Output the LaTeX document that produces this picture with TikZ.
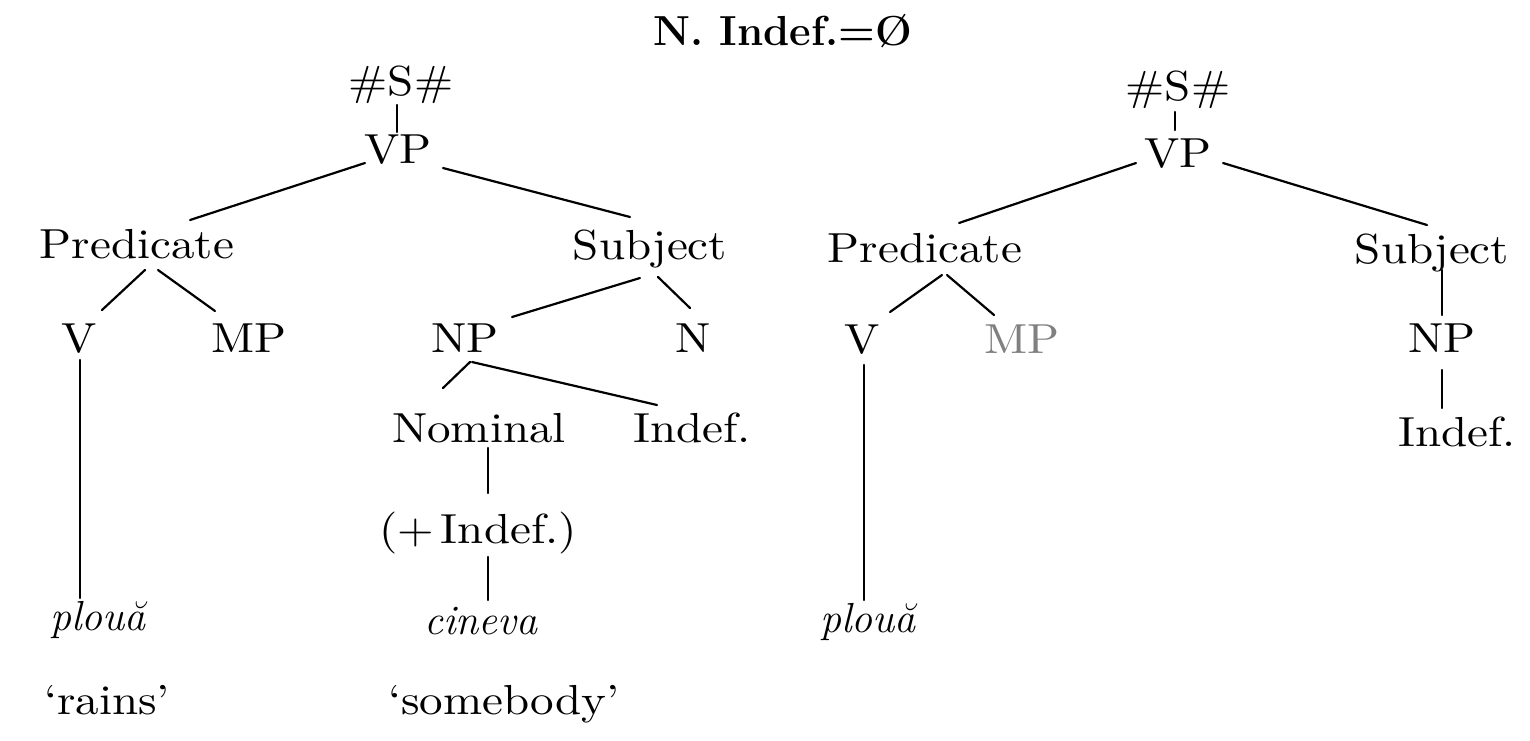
\documentclass[tikz,border=0pt]{standalone}
\usepackage{fontspec}
\newfontfamily\rmwide{lmroman10-regular.otf}[FakeStretch=1.12]
\usetikzlibrary{calc}
\begin{document}
\begin{tikzpicture}[x=0.5pt,y=-0.5pt,
  lbl/.style={anchor=base,inner sep=0pt,font=\fontsize{21}{25}\selectfont\rmwide},
  word/.style={anchor=base,inner sep=0pt,font=\fontsize{21}{25}\selectfont\itshape},
  ttl/.style={anchor=base,inner sep=0pt,font=\fontsize{21}{25}\selectfont\bfseries},
  faint/.style={lbl,text=black!50},
  br/.style={line width=1.1pt,line cap=round}]
\useasboundingbox (0,0) rectangle (1530,740);
\fill[white] (0,0) rectangle (1530,740);
% title
\node[ttl] (title) at (783,45) {N. Indef.=Ø};
% ---------------- left tree
\node[lbl] (lS)    at (401,95)  {\#S\#};
\node[lbl] (lVP)   at (398,163) {VP};
\node[lbl] (lPred) at (137,258) {Predicate};
\node[lbl] (lSubj) at (650,259) {Subject};
\node[lbl] (lV)    at (79,352)  {V};
\node[lbl] (lMP)   at (249,352) {MP};
\node[lbl] (lNP)   at (465,352) {NP};
\node[lbl] (lN)    at (693,352) {N};
\node[lbl] (lNom)  at (479,442) {Nominal};
\node[lbl] (lInd)  at (692,442) {Indef.};
\node[lbl] (lPI)   at (478,543) {(+\,Indef.)};
\node[word] (lcin) at (481,634) {cineva};
\node[word] (lplo) at (98,630)  {plouă};
\node[lbl] (rains) at (107,714) {‘rains’};
\node[lbl] (smb)   at (504,714) {‘somebody’};
\draw[br] ($(lS.base)+(-4,10)$) -- ($(lVP.base)+(-1,-31)$);
\draw[br] ($(lVP.base)+(-33,0)$) -- ($(lPred.base)+(53,-38)$);
\draw[br] ($(lVP.base)+(45,5)$) -- ($(lSubj.base)+(-20,-42)$);
\draw[br] ($(lPred.base)+(8,12)$) -- ($(lV.base)+(23,-42)$);
\draw[br] ($(lPred.base)+(21,12)$) -- ($(lMP.base)+(-34,-41)$);
\draw[br] ($(lSubj.base)+(-10,19)$) -- ($(lNP.base)+(47,-35)$);
\draw[br] ($(lSubj.base)+(8,18)$) -- ($(lN.base)+(-3,-44)$);
\draw[br] ($(lNP.base)+(5,10)$) -- ($(lNom.base)+(-36,-54)$);
\draw[br] ($(lNP.base)+(7,10)$) -- ($(lInd.base)+(-35,-37)$);
\draw[br] ($(lNom.base)+(9,6)$) -- ($(lPI.base)+(10,-50)$);
\draw[br] ($(lPI.base)+(10,14)$) -- ($(lcin.base)+(7,-34)$);
\draw[br] ($(lV.base)+(1,8)$) -- ($(lplo.base)+(-18,-32)$);
% ---------------- right tree
\node[lbl] (rS)    at (1178,100) {\#S\#};
\node[lbl] (rVP)   at (1178,167) {VP};
\node[lbl] (rPred) at (925,262)  {Predicate};
\node[lbl] (rSubj) at (1432,263) {Subject};
\node[lbl] (rV)    at (862,353)  {V};
\node[faint] (rMP) at (1022,353) {MP};
\node[lbl] (rNP)   at (1442,352) {NP};
\node[lbl] (rInd)  at (1457,446) {Indef.};
\node[word] (rplo) at (868,632)  {plouă};
\draw[br] ($(rS.base)+(-3,12)$) -- ($(rVP.base)+(-3,-37)$);
\draw[br] ($(rVP.base)+(-42,-4)$) -- ($(rPred.base)+(34,-39)$);
\draw[br] ($(rVP.base)+(45,-4)$) -- ($(rSubj.base)+(-5,-38)$);
\draw[br] ($(rPred.base)+(17,13)$) -- ($(rV.base)+(28,-41)$);
\draw[br] ($(rPred.base)+(22,13)$) -- ($(rMP.base)+(-28,-38)$);
\draw[br] ($(rSubj.base)+(10,7)$) -- ($(rNP.base)+(0,-37)$);
\draw[br] ($(rNP.base)+(0,18)$) -- ($(rInd.base)+(-15,-38)$);
\draw[br] ($(rV.base)+(2,12)$) -- ($(rplo.base)+(-4,-32)$);
\end{tikzpicture}
\end{document}
